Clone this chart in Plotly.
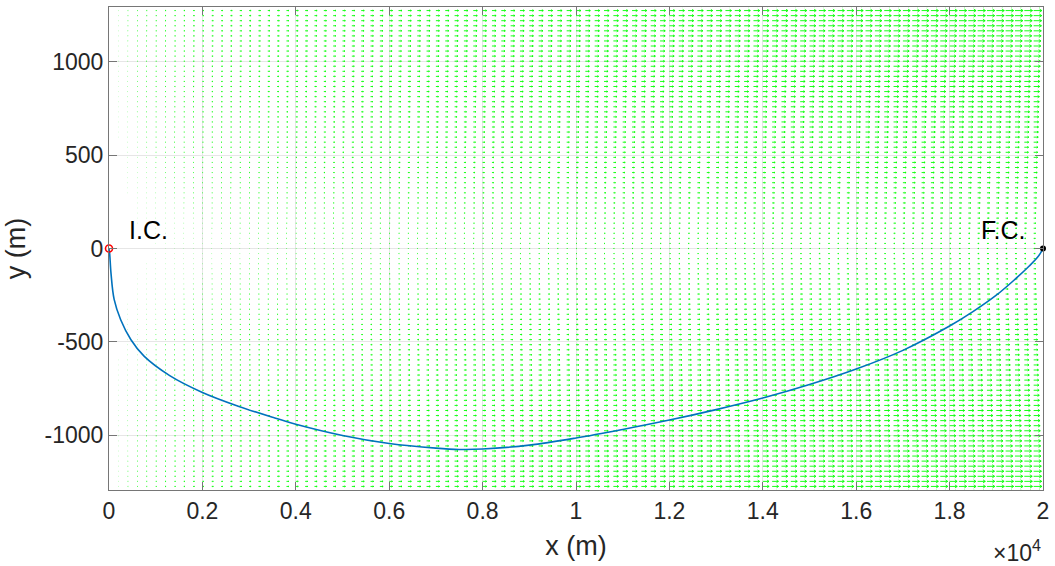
import numpy as np
import plotly.graph_objects as go

# Optimal path through the current field (x, y in metres)
path_x = [0, 14, 43, 110, 250, 470, 750, 1300, 2000, 2750, 3500, 4000, 5000,
          6000, 7000, 7500, 8000, 9000, 10000, 11000, 12000, 13000, 14000, 15000,
          16000, 17000, 18000, 18500, 19000, 19400, 19700, 19900, 20000]
path_y = [0, -27, -133, -272, -381, -488, -576, -680, -770, -842, -903, -940, -1000,
          -1043, -1068, -1075, -1073, -1052, -1014, -968, -918, -862, -800, -728,
          -645, -545, -415, -338, -250, -165, -95, -42, 0]

# Initial and final conditions
ic_x, ic_y = [0], [0]
fc_x, fc_y = [20000], [0]

# Quiver grid for the current field
grid_x = np.linspace(0, 20000, 101)
grid_y = np.linspace(-1300, 1300, 97)

x_ticks = [0, 2000, 4000, 6000, 8000, 10000, 12000, 14000, 16000, 18000, 20000]
x_tick_text = ["0", "0.2", "0.4", "0.6", "0.8", "1", "1.2", "1.4", "1.6", "1.8", "2"]
y_ticks = [-1000, -500, 0, 500, 1000]
y_tick_text = ["-1000", "-500", "0", "500", "1000"]

# Current model: flow along +x, growing with x and with distance from y = 0
L, H = 20000.0, 1300.0
GX, GY = np.meshgrid(grid_x, grid_y)
U = (GX / L) ** 0.75 * (0.2 + np.abs(GY) / H)
V = np.zeros_like(U)

# quiver-style autoscaling: longest arrow spans 0.9 of a grid cell
dx = grid_x[1] - grid_x[0]
dy = grid_y[1] - grid_y[0]
cell_len = np.sqrt((U / dx) ** 2 + (V / dy) ** 2)
scale = 0.9 / cell_len.max()
U = (U * scale).ravel()
V = (V * scale).ravel()
X0 = GX.ravel()
Y0 = GY.ravel()
nan = np.full_like(X0, np.nan)

# arrow heads: back length and half-width relative to the arrow length
head_back, head_half = 0.3, 0.05
shaft_x = np.column_stack([X0, X0 + U, nan]).ravel()
shaft_y = np.column_stack([Y0, Y0 + V, nan]).ravel()
head_x = np.column_stack([X0 + U - head_back * U, X0 + U, X0 + U - head_back * U, nan]).ravel()
head_y = np.column_stack([Y0 - head_half * U, Y0 + V, Y0 + head_half * U, nan]).ravel()


def with_gaps(a):
    return [None if np.isnan(v) else round(float(v), 3) for v in a]


fig = go.Figure()
green = "rgb(0,255,0)"
fig.add_trace(go.Scatter(x=with_gaps(shaft_x), y=with_gaps(shaft_y), mode="lines",
                         line=dict(color=green, width=0.9), connectgaps=False,
                         hoverinfo="skip", showlegend=False))
fig.add_trace(go.Scatter(x=with_gaps(head_x), y=with_gaps(head_y), mode="lines",
                         line=dict(color=green, width=0.9), connectgaps=False,
                         hoverinfo="skip", showlegend=False))
fig.add_trace(go.Scatter(x=path_x, y=path_y, mode="lines",
                         line=dict(color="#0072BD", width=1.6, shape="spline", smoothing=1.0),
                         showlegend=False))
fig.add_trace(go.Scatter(x=ic_x, y=ic_y, mode="markers", cliponaxis=False,
                         marker=dict(symbol="circle-open", size=7, color="red", line=dict(width=1.6)),
                         showlegend=False))
fig.add_trace(go.Scatter(x=fc_x, y=fc_y, mode="markers", cliponaxis=False,
                         marker=dict(symbol="circle", size=6, color="black"),
                         showlegend=False))

family = "Liberation Sans, Arial, sans-serif"
tick_font = dict(family=family, size=23, color="#262626")
title_font = dict(family=family, size=27, color="#262626")
text_font = dict(family=family, size=25, color="#000000")
axis_common = dict(showline=True, linecolor="#767676", linewidth=1, mirror="ticks",
                   ticks="inside", ticklen=8, tickcolor="#767676",
                   showgrid=True, gridcolor="#e6e6e6", gridwidth=1, zeroline=False,
                   tickfont=tick_font)

fig.update_layout(
    width=1055, height=566,
    margin=dict(l=109, r=8, t=6, b=76),
    paper_bgcolor="white", plot_bgcolor="white",
    font=tick_font,
    xaxis=dict(range=[0, 20000], tickvals=x_ticks, ticktext=x_tick_text,
               title=dict(text="x (m)", font=title_font, standoff=13), **axis_common),
    yaxis=dict(range=[-1292, 1292], tickvals=y_ticks, ticktext=y_tick_text,
               title=dict(text="y (m)", font=title_font, standoff=11), **axis_common),
    annotations=[
        dict(x=380, y=100, xref="x", yref="y", text="I.C.", showarrow=False,
             xanchor="left", yanchor="middle", font=text_font),
        dict(x=18640, y=100, xref="x", yref="y", text="F.C.", showarrow=False,
             xanchor="left", yanchor="middle", font=text_font),
        dict(x=(1047 - 109) / 938, y=(490 - 551) / 484, xref="paper", yref="paper",
             text="×10<sup>4</sup>", showarrow=False, xanchor="right", yanchor="middle",
             font=tick_font),
    ],
)

fig.write_html("out.html")
